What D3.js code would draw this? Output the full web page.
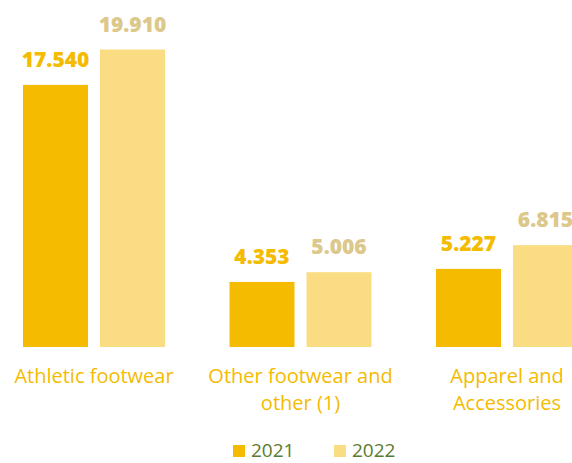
<!DOCTYPE html>
<html>
<head>
<meta charset="utf-8">
<script src="https://cdn.jsdelivr.net/npm/d3@7"></script>
<style>
  body { margin: 0; background: #fff; }
  svg { display: block; overflow: hidden; }
  text { font-family: "Open Sans", sans-serif; }
</style>
</head>
<body>
<div id="chart"></div>
<script>
var categories = [["Athletic footwear"], ["Other footwear and", "other (1)"], ["Apparel and", "Accessories"]],
    seriesNames = ["2021", "2022"],
    values2021 = [17540, 4353, 5227],
    values2022 = [19910, 5006, 6815],
    valueLabels2021 = ["17.540", "4.353", "5.227"],
    valueLabels2022 = ["19.910", "5.006", "6.815"];

var width = 572,
    height = 463,
    baseline = 347,
    colors = ["#F4BB00", "#FADC82"],
    labelColors = ["#F4BB00", "#DCC88A"],
    legendColor = "#5B7B2E";

var data = categories.map(function (c, i) {
  return { cat: c.join(" "), lines: c, vals: [values2021[i], values2022[i]], labs: [valueLabels2021[i], valueLabels2022[i]] };
});

var x0 = d3.scaleBand()
    .domain(data.map(function (d) { return d.cat; }))
    .range([23, 578])
    .paddingInner(0.3125)
    .paddingOuter(0);

var x1 = d3.scaleBand()
    .domain([0, 1])
    .range([0, x0.bandwidth()])
    .paddingInner(0.156);

var y = d3.scaleLinear()
    .domain([0, 19910])
    .range([baseline, 49.5]);

var svg = d3.select("#chart").append("svg")
    .attr("width", width)
    .attr("height", height);

var groups = svg.selectAll("g.group")
  .data(data)
  .enter().append("g")
    .attr("class", "group")
    .attr("transform", function (d) { return "translate(" + x0(d.cat) + ",0)"; });

groups.selectAll("rect")
  .data(function (d) { return d.vals.map(function (v, i) { return { v: v, i: i, lab: d.labs[i] }; }); })
  .enter().append("rect")
    .attr("x", function (d) { return x1(d.i); })
    .attr("width", x1.bandwidth())
    .attr("y", function (d) { return y(d.v); })
    .attr("height", function (d) { return baseline - y(d.v); })
    .attr("fill", function (d) { return colors[d.i]; });

groups.selectAll("text.value")
  .data(function (d) { return d.vals.map(function (v, i) { return { v: v, i: i, lab: d.labs[i] }; }); })
  .enter().append("text")
    .attr("class", "value")
    .attr("x", function (d) { return x1(d.i) + x1.bandwidth() / 2; })
    .attr("y", function (d) { return y(d.v) - 18; })
    .attr("text-anchor", "middle")
    .attr("fill", function (d) { return labelColors[d.i]; })
    .style("font-size", "21px")
    .style("font-weight", "800")
    .text(function (d) { return d.lab; });

groups.each(function (d) {
  var t = d3.select(this).append("text")
    .attr("text-anchor", "middle")
    .attr("fill", colors[0])
    .style("font-size", "20px");
  d.lines.forEach(function (line, k) {
    t.append("tspan")
      .attr("x", x0.bandwidth() / 2)
      .attr("y", 383 + k * 27)
      .text(line);
  });
});

var legend = svg.append("g");
var legendX = d3.scaleOrdinal().domain(seriesNames).range([233, 334]);

legend.selectAll("rect")
  .data(seriesNames)
  .enter().append("rect")
    .attr("x", function (d) { return legendX(d); })
    .attr("y", 445)
    .attr("width", 12)
    .attr("height", 12)
    .attr("fill", function (d, i) { return colors[i]; });

legend.selectAll("text")
  .data(seriesNames)
  .enter().append("text")
    .attr("x", function (d) { return legendX(d) + 18; })
    .attr("y", 457)
    .attr("fill", legendColor)
    .style("font-size", "19px")
    .text(function (d) { return d; });
</script>
</body>
</html>
